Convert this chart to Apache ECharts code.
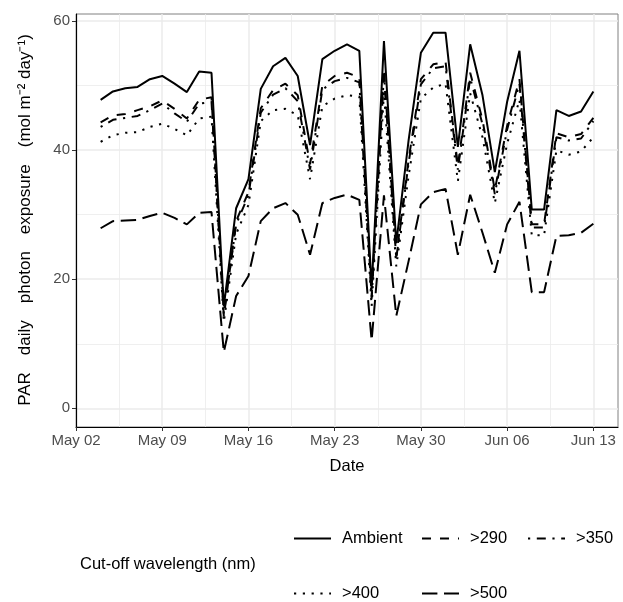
<!DOCTYPE html>
<html>
<head>
<meta charset="utf-8">
<script src="https://cdn.jsdelivr.net/npm/echarts@6/dist/echarts.min.js"></script>
<style>
  html, body { margin: 0; background: #fff; }
  #chart { width: 623px; height: 602px; }
</style>
</head>
<body>
<div id="chart"></div>
<script>
// daily values, May 04 .. Jun 13
const startDate = '05-02';
const dates = [
  '05-04', '05-05', '05-06', '05-07', '05-08', '05-09', '05-10', '05-11', '05-12', '05-13',
  '05-14', '05-15', '05-16', '05-17', '05-18', '05-19', '05-20', '05-21', '05-22', '05-23',
  '05-24', '05-25', '05-26', '05-27', '05-28', '05-29', '05-30', '05-31', '06-01', '06-02',
  '06-03', '06-04', '06-05', '06-06', '06-07', '06-08', '06-09', '06-10', '06-11', '06-12',
  '06-13'
];
const ambient = [
  47.8, 49.1, 49.6, 49.8, 51.0, 51.5, 50.3, 49.0, 52.2, 52.0,
  15.8, 31.0, 35.5, 49.5, 53.0, 54.3, 51.5, 40.8, 54.1, 55.4,
  56.4, 55.4, 18.5, 56.9, 25.6, 41.5, 55.1, 58.2, 58.2, 40.5,
  56.4, 48.5, 36.6, 47.5, 55.4, 30.8, 30.8, 46.2, 45.3, 46.0,
  49.1
];
const cut290 = [
  44.3, 45.4, 45.6, 46.2, 46.8, 47.7, 46.4, 44.9, 47.8, 48.2,
  14.2, 29.0, 33.5, 46.5, 49.3, 50.3, 48.5, 37.8, 50.0, 51.5,
  52.0, 51.3, 17.3, 52.6, 23.5, 38.5, 51.0, 53.3, 53.7, 37.5,
  52.0, 44.7, 33.8, 43.8, 51.0, 28.5, 28.5, 42.6, 42.0, 42.5,
  45.0
];
const cut350 = [
  43.6, 44.7, 45.0, 45.3, 46.2, 47.2, 45.7, 44.4, 47.2, 47.5,
  14.6, 28.5, 33.0, 45.8, 48.6, 49.6, 47.6, 37.0, 49.4, 50.7,
  51.2, 50.5, 17.0, 51.8, 23.2, 38.0, 50.2, 52.7, 53.0, 37.0,
  51.2, 44.0, 33.2, 43.2, 50.3, 28.0, 28.0, 42.0, 41.5, 41.8,
  44.5
];
const cut400 = [
  41.3, 42.3, 42.7, 42.8, 43.6, 44.1, 43.3, 42.3, 44.9, 45.2,
  13.4, 27.0, 31.5, 44.5, 46.2, 46.4, 45.4, 35.5, 46.8, 48.0,
  48.5, 48.3, 15.8, 49.0, 22.0, 36.0, 48.0, 49.7, 50.3, 35.2,
  48.8, 42.0, 31.8, 41.0, 47.8, 26.8, 26.8, 40.0, 39.3, 39.8,
  42.0
];
const cut500 = [
  27.9, 29.0, 29.1, 29.2, 29.8, 30.3, 29.5, 28.5, 30.3, 30.4,
  8.7, 17.4, 20.5, 29.0, 31.0, 31.8, 30.0, 23.8, 31.8, 32.6,
  33.1, 32.3, 10.5, 33.0, 14.3, 22.8, 31.6, 33.5, 34.0, 23.8,
  33.1, 27.2, 21.0, 28.5, 32.0, 18.0, 18.0, 26.7, 26.8, 27.2,
  28.6
];
const tickLabels = ['May 02', 'May 09', 'May 16', 'May 23', 'May 30', 'Jun 06', 'Jun 13'];
const yTicks = [0, 20, 40, 60];

const FONT = 'Liberation Sans, Arial, sans-serif';
const EM = '\u2003';

function dayOffset(md) {
  const [m, d] = md.split('-').map(Number);
  const [m0, d0] = startDate.split('-').map(Number);
  return Math.round((Date.UTC(2000, m - 1, d) - Date.UTC(2000, m0 - 1, d0)) / 86400000);
}
const xDays = dates.map(dayOffset);
const xTicks = tickLabels.map((_, i) => i * 7);

const LINES = [
  { name: 'Ambient', values: ambient, type: 'solid', key: [293, 530] },
  { name: '>290', values: cut290, type: [9, 9], key: [421, 530] },
  { name: '>350', values: cut350, type: [2.2, 6.6, 9, 6.6], key: [527, 530] },
  { name: '>400', values: cut400, type: [2.2, 6.6], key: [293, 585] },
  { name: '>500', values: cut500, type: [15.4, 6.6], key: [421, 585] },
];

// one legend per entry so the keys sit in ggplot-like columns
function legendKey(s) {
  return {
    left: s.key[0],
    top: s.key[1],
    padding: 0,
    itemWidth: 37,
    itemHeight: 14,
    selectedMode: false,
    itemStyle: { opacity: 0 },
    textStyle: { fontSize: 16.5, color: '#000', fontFamily: FONT, padding: [0, 0, 0, 6] },
    data: [s.name],
  };
}

const gridLine = { show: true, lineStyle: { color: '#ebebeb', width: 1.5 } };
const minorLine = { show: true, lineStyle: { color: '#ebebeb', width: 0.8 } };

const chart = echarts.init(document.getElementById('chart'));
chart.setOption({
  backgroundColor: '#fff',
  animation: false,
  textStyle: { fontFamily: FONT },
  title: {
    text: 'Cut-off wavelength (nm)',
    left: 80,
    top: 556,
    padding: 0,
    textStyle: { fontSize: 16.5, fontWeight: 'normal', color: '#000', fontFamily: FONT },
  },
  graphic: [
    {
      type: 'text',
      x: 25,
      y: 220,
      rotation: Math.PI / 2,
      style: {
        text: ['PAR', 'daily', 'photon', 'exposure', '(mol m\u207B\u00B2 day\u207B\u00B9)'].join(EM),
        fontSize: 17,
        fontFamily: FONT,
        fill: '#000',
        align: 'center',
        verticalAlign: 'middle',
      },
    },
  ],
  grid: {
    left: 76,
    right: 5,
    top: 14,
    bottom: 175,
    show: true,
    borderColor: '#808080',
    borderWidth: 1,
  },
  legend: LINES.map(legendKey),
  xAxis: {
    type: 'value',
    min: 0,
    max: 44,
    interval: 7,
    name: 'Date',
    nameLocation: 'middle',
    nameGap: 31,
    nameTextStyle: { fontSize: 16.5, color: '#000', fontFamily: FONT },
    axisLine: { show: true, onZero: false, lineStyle: { color: '#000', width: 1.2 } },
    axisTick: { show: true, length: 4, lineStyle: { color: '#333' }, customValues: xTicks },
    axisLabel: {
      customValues: xTicks,
      formatter: (v) => tickLabels[Math.round(v / 7)],
      fontSize: 15,
      color: '#4d4d4d',
      margin: 6,
    },
    splitLine: gridLine,
    minorTick: { show: false, splitNumber: 2 },
    minorSplitLine: minorLine,
  },
  yAxis: {
    type: 'value',
    min: -2.9,
    max: 61.1,
    splitNumber: 3,
    axisLine: { show: true, onZero: false, lineStyle: { color: '#000', width: 1.2 } },
    axisTick: { show: true, length: 4, lineStyle: { color: '#333' }, customValues: yTicks },
    axisLabel: {
      customValues: yTicks,
      fontSize: 15,
      color: '#4d4d4d',
      margin: 6,
    },
    splitLine: gridLine,
    minorTick: { show: false, splitNumber: 2 },
    minorSplitLine: minorLine,
  },
  series: LINES.map((s) => ({
    name: s.name,
    type: 'line',
    symbol: 'none',
    data: s.values.map((v, i) => [xDays[i], v]),
    itemStyle: { color: '#000' },
    lineStyle: { color: '#000', width: 2, type: s.type },
  })),
});
</script>
</body>
</html>
